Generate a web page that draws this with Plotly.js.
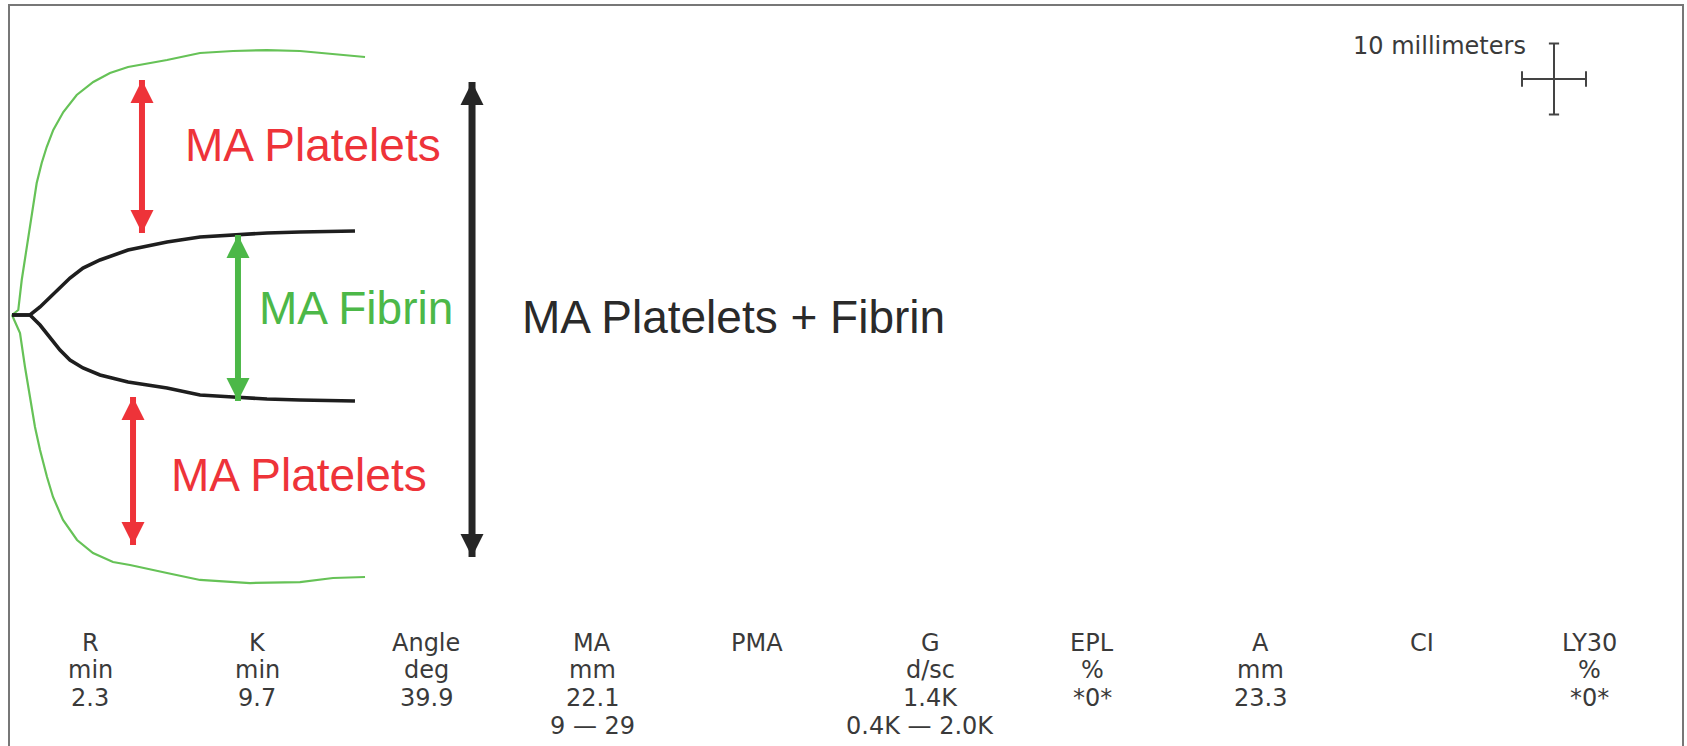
<!DOCTYPE html>
<html><head><meta charset="utf-8">
<script src="https://cdn.plot.ly/plotly-3.0.1.min.js"></script>
<style>html,body{margin:0;padding:0;background:#fff;overflow:hidden}</style>
</head><body><div id="chart" style="width:1687px;height:746px"></div>
<script>
// ---- TEG tracing (trace length in mm, amplitude in mm) ----
const normalUpperX = [0, 0.98, 1.52, 2.30, 3.08, 3.86, 4.64, 5.42, 6.45, 8.02, 10.11, 12.70, 15.31, 18.13, 24.22, 29.38, 34.53, 39.84, 45.00, 50.16, 55.16];
const normalUpperY = [0, 0.70, 4.93, 9.58, 13.80, 18.59, 21.41, 23.66, 26.06, 28.59, 30.99, 32.82, 34.08, 34.93, 35.92, 36.90, 37.18, 37.32, 37.18, 36.76, 36.34];
const normalLowerX = [0, 1.25, 2.03, 2.81, 3.59, 4.38, 5.47, 6.41, 7.97, 10.16, 12.66, 15.78, 18.44, 24.22, 29.38, 37.19, 45.00, 50.16, 55.16];
const normalLowerY = [0, -2.54, -7.32, -11.55, -15.77, -19.01, -22.82, -25.63, -28.87, -31.69, -33.52, -34.79, -35.21, -36.34, -37.32, -37.75, -37.61, -37.04, -36.90];
const fibrinUpperX = [0, 2.81, 4.38, 5.94, 7.50, 9.06, 11.09, 13.75, 18.13, 24.22, 29.38, 34.53, 39.84, 45.00, 53.59];
const fibrinUpperY = [0, 0, 1.13, 2.54, 3.94, 5.21, 6.62, 7.75, 9.15, 10.28, 10.99, 11.27, 11.55, 11.69, 11.83];
const fibrinLowerX = [0, 2.81, 4.38, 5.94, 7.50, 9.06, 11.09, 13.75, 18.13, 24.22, 29.38, 34.53, 39.84, 45.00, 53.59];
const fibrinLowerY = [0, 0, -1.41, -3.10, -4.93, -6.34, -7.46, -8.45, -9.44, -10.28, -11.27, -11.55, -11.83, -11.97, -12.11];

// ---- Double-headed arrows (mm) ----
const arrowNames = ['MA Platelets', 'MA Fibrin', 'MA Platelets', 'MA Platelets + Fibrin'];
const arrowX = [20.31, 35.31, 18.91, 71.88];
const arrowTop = [33.10, 11.27, -11.55, 32.82];
const arrowBottom = [11.55, -12.11, -32.39, -34.08];

// ---- Scale bar ----
const scaleBarMm = 10;
const scaleBarLabel = '10 millimeters';

// ---- Result table ----
const paramNames = ['R', 'K', 'Angle', 'MA', 'PMA', 'G', 'EPL', 'A', 'CI', 'LY30'];
const paramUnits = ['min', 'min', 'deg', 'mm', '', 'd/sc', '%', 'mm', '', '%'];
const paramValues = ['2.3', '9.7', '39.9', '22.1', '', '1.4K', '*0*', '23.3', '', '*0*'];
const paramRanges = ['', '', '', '9 \u2014 29', '', '0.4K \u2014 2.0K', '', '', '', ''];

// ---- styling ----
const W = 1687, H = 746;
const PXX = 6.4, PXY = 7.1, OX = 12, OY = 315;
const RED = '#ee3339', GREEN = '#4cb848', DARK = '#262626', CURVE_GREEN = '#66c257', TXT = '#3a3a3a';
const arrowColors = [RED, GREEN, RED, DARK];
const arrowWidths = [6, 6, 6, 7];
const px = v => v / W, py = v => 1 - v / H;

const traces = [
  {x: normalUpperX, y: normalUpperY, mode: 'lines', line: {color: CURVE_GREEN, width: 2.2}},
  {x: normalLowerX, y: normalLowerY, mode: 'lines', line: {color: CURVE_GREEN, width: 2.2}},
  {x: fibrinUpperX, y: fibrinUpperY, mode: 'lines', line: {color: '#1e1e1e', width: 3.6}},
  {x: fibrinLowerX, y: fibrinLowerY, mode: 'lines', line: {color: '#1e1e1e', width: 3.6}}
];
arrowX.forEach((ax, i) => {
  traces.push({
    x: [ax, ax], y: [arrowTop[i], arrowBottom[i]], mode: 'lines+markers', name: arrowNames[i],
    line: {color: arrowColors[i], width: arrowWidths[i]},
    marker: {symbol: ['arrow-up', 'arrow-down'], size: 23, color: arrowColors[i]}
  });
});

const annotations = [];
const bigFont = (c) => ({family: 'Liberation Sans, Arial, sans-serif', size: 46, color: c});
annotations.push({xref: 'paper', yref: 'paper', x: px(183), y: py(145), xanchor: 'left', yanchor: 'middle', text: arrowNames[0], showarrow: false, font: bigFont(RED)});
annotations.push({xref: 'paper', yref: 'paper', x: px(257), y: py(307.5), xanchor: 'left', yanchor: 'middle', text: arrowNames[1], showarrow: false, font: bigFont(GREEN)});
annotations.push({xref: 'paper', yref: 'paper', x: px(169), y: py(474.5), xanchor: 'left', yanchor: 'middle', text: arrowNames[2], showarrow: false, font: bigFont(RED)});
annotations.push({xref: 'paper', yref: 'paper', x: px(520), y: py(316.5), xanchor: 'left', yanchor: 'middle', text: arrowNames[3], showarrow: false, font: bigFont('#2a2a2a')});
annotations.push({xref: 'paper', yref: 'paper', x: px(1528), y: py(46), xanchor: 'right', yanchor: 'middle', text: scaleBarLabel, showarrow: false, font: {family: 'DejaVu Sans, sans-serif', size: 24, color: TXT}});

const colX = [90, 257, 426, 592, 757, 930, 1092, 1260, 1422, 1589];
const rowY = [643, 670, 698, 726];
const rows = [paramNames, paramUnits, paramValues, paramRanges];
rows.forEach((row, r) => row.forEach((t, c) => {
  if (!t) return;
  annotations.push({xref: 'paper', yref: 'paper', x: px(colX[c] + (r === 3 && c === 5 ? -10 : 0)), y: py(rowY[r]), xanchor: 'center', yanchor: 'middle',
    text: t, showarrow: false, font: {family: 'DejaVu Sans, sans-serif', size: 24, color: TXT}});
}));

// scale cross centre (mm)
const cx = (1554 - OX) / PXX, cy = (OY - 79) / PXY;
const half = scaleBarMm / 2;
const sLine = {color: '#444', width: 2};
const shapes = [
  {type: 'rect', xref: 'paper', yref: 'paper', x0: px(9), x1: px(1683), y0: -0.02, y1: py(5), line: {color: '#777', width: 2}},
  {type: 'line', xref: 'x', yref: 'y', x0: cx, x1: cx, y0: cy - half, y1: cy + half, line: sLine},
  {type: 'line', xref: 'x', yref: 'y', x0: cx - half, x1: cx + half, y0: cy, y1: cy, line: sLine},
  {type: 'line', xref: 'x', yref: 'y', x0: cx - 0.8, x1: cx + 0.8, y0: cy + half, y1: cy + half, line: sLine},
  {type: 'line', xref: 'x', yref: 'y', x0: cx - 0.8, x1: cx + 0.8, y0: cy - half, y1: cy - half, line: sLine},
  {type: 'line', xref: 'x', yref: 'y', x0: cx - half, x1: cx - half, y0: cy - 1.1, y1: cy + 1.1, line: sLine},
  {type: 'line', xref: 'x', yref: 'y', x0: cx + half, x1: cx + half, y0: cy - 1.1, y1: cy + 1.1, line: sLine}
];

const layout = {
  width: W, height: H, margin: {l: 0, r: 0, t: 0, b: 0, pad: 0},
  paper_bgcolor: '#fff', plot_bgcolor: '#fff', showlegend: false,
  xaxis: {range: [-OX / PXX, (W - OX) / PXX], visible: false, fixedrange: true},
  yaxis: {range: [(OY - H) / PXY, OY / PXY], visible: false, fixedrange: true},
  annotations: annotations, shapes: shapes
};
Plotly.newPlot('chart', traces, layout, {displayModeBar: false, staticPlot: true});
</script></body></html>
